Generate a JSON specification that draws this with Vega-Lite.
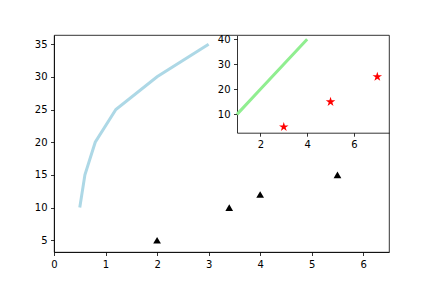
{
  "$schema": "https://vega.github.io/schema/vega-lite/v6.json",
  "width": 335,
  "height": 217,
  "autosize": {"type": "none"},
  "padding": {"left": 54, "top": 35, "right": 43, "bottom": 36},
  "background": "white",
  "config": {
    "view": {"stroke": "black", "strokeWidth": 0.8},
    "axis": {
      "grid": false,
      "title": null,
      "domainColor": "black",
      "domainWidth": 0.8,
      "tickColor": "black",
      "tickWidth": 0.8,
      "tickSize": 3.5,
      "labelColor": "black",
      "labelFont": "DejaVu Sans",
      "labelFontSize": 10,
      "labelPadding": 3.5,
      "labelOverlap": false,
      "labelFlush": false,
      "labelBound": false
    }
  },
  "datasets": {
    "curve": [
      {"x": 0.5, "y": 10}, {"x": 0.6, "y": 15}, {"x": 0.8, "y": 20},
      {"x": 1.2, "y": 25}, {"x": 2, "y": 30}, {"x": 3, "y": 35}
    ],
    "triangles": [
      {"x": 2, "y": 5}, {"x": 3.4, "y": 10}, {"x": 4, "y": 12}, {"x": 5.5, "y": 15}
    ],
    "inset_line": [
      {"x": 1, "y": 10}, {"x": 2, "y": 20}, {"x": 3, "y": 30}, {"x": 4, "y": 40}
    ],
    "stars": [
      {"x": 3, "y": 5}, {"x": 5, "y": 15}, {"x": 7, "y": 25}
    ]
  },
  "layer": [
    {
      "layer": [
        {
          "data": {"name": "curve"},
          "mark": {"type": "line", "color": "#add8e6", "strokeWidth": 3},
          "encoding": {
            "x": {"field": "x", "type": "quantitative",
                  "scale": {"domain": [0, 6.5], "nice": false, "zero": false},
                  "axis": {"orient": "bottom", "tickCount": 7}},
            "y": {"field": "y", "type": "quantitative",
                  "scale": {"domain": [3.2, 36.4], "nice": false, "zero": false},
                  "axis": {"orient": "left", "tickCount": 7}}
          }
        },
        {
          "data": {"name": "triangles"},
          "mark": {"type": "point", "shape": "triangle-up", "filled": true, "color": "black", "size": 60, "opacity": 1},
          "encoding": {
            "x": {"field": "x", "type": "quantitative"},
            "y": {"field": "y", "type": "quantitative"}
          }
        }
      ]
    },
    {
      "layer": [
        {
          "data": {"name": "inset_line"},
          "mark": {"type": "line", "color": "#90ee90", "strokeWidth": 3},
          "encoding": {
            "x": {"field": "x", "type": "quantitative",
                  "scale": {"domain": [1, 7.5], "range": [183, 335], "nice": false, "zero": false},
                  "axis": {"orient": "bottom", "offset": -119.3, "values": [2, 4, 6]}},
            "y": {"field": "y", "type": "quantitative",
                  "scale": {"domain": [2.7, 41.5], "range": [97.7, 0.4], "nice": false, "zero": false},
                  "axis": {"orient": "left", "offset": -183, "values": [10, 20, 30, 40]}}
          }
        },
        {
          "data": {"name": "stars"},
          "mark": {"type": "point", "shape": "M0,-1L0.225,-0.309L0.951,-0.309L0.363,0.118L0.588,0.809L0,0.382L-0.588,0.809L-0.363,0.118L-0.951,-0.309L-0.225,-0.309Z", "filled": true, "color": "red", "size": 100, "opacity": 1},
          "encoding": {
            "x": {"field": "x", "type": "quantitative"},
            "y": {"field": "y", "type": "quantitative"}
          }
        }
      ]
    }
  ],
  "resolve": {"scale": {"x": "independent", "y": "independent"}, "axis": {"x": "independent", "y": "independent"}}
}
